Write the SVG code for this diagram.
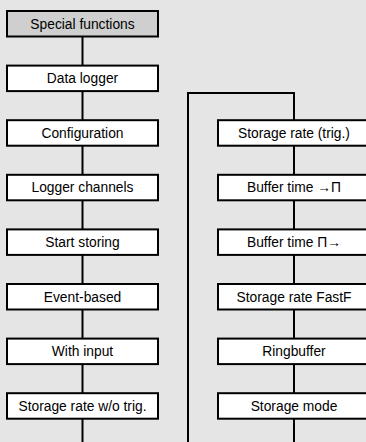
<svg xmlns="http://www.w3.org/2000/svg" width="366" height="442" viewBox="0 0 366 442">
<style>
.bg{fill:#e5e5e5}
.box{fill:#ffffff;stroke:#000;stroke-width:2}
.head{fill:#cfcfcf}
.lbl{font-family:"Liberation Sans",Arial,sans-serif;font-size:13.8px;fill:#000;text-anchor:middle}
.con{fill:none;stroke:#000;stroke-width:2}
</style>
<rect class="bg" x="0" y="0" width="366" height="442"/>
<g id="connectors">
<path class="con" d="M82.5 37 V442"/>
<path class="con" d="M188 442 V93 H294 V442"/>
</g>
<g id="n1"><rect class="box head" x="7" y="11" width="151" height="25.5"/><text class="lbl" x="82.5" y="28.5">Special functions</text></g>
<g id="n2"><rect class="box" x="7" y="65.6" width="151" height="25.5"/><text class="lbl" x="82.5" y="83.1">Data logger</text></g>
<g id="n3"><rect class="box" x="7" y="120.2" width="151" height="25.5"/><text class="lbl" x="82.5" y="137.7">Configuration</text></g>
<g id="n4"><rect class="box" x="7" y="174.8" width="151" height="25.5"/><text class="lbl" x="82.5" y="192.3">Logger channels</text></g>
<g id="n5"><rect class="box" x="7" y="229.4" width="151" height="25.5"/><text class="lbl" x="82.5" y="246.9">Start storing</text></g>
<g id="n6"><rect class="box" x="7" y="284" width="151" height="25.5"/><text class="lbl" x="82.5" y="301.5">Event-based</text></g>
<g id="n7"><rect class="box" x="7" y="338.6" width="151" height="25.5"/><text class="lbl" x="82.5" y="356.1">With input</text></g>
<g id="n8"><rect class="box" x="7" y="393.2" width="151" height="25.5"/><text class="lbl" x="82.5" y="410.7">Storage rate w/o trig.</text></g>
<g id="n9"><rect class="box" x="218" y="120.2" width="152" height="25.5"/><text class="lbl" x="294" y="137.7">Storage rate (trig.)</text></g>
<g id="n10"><rect class="box" x="218" y="174.8" width="152" height="25.5"/><text class="lbl" x="294" y="192.3">Buffer time →Π</text></g>
<g id="n11"><rect class="box" x="218" y="229.4" width="152" height="25.5"/><text class="lbl" x="294" y="246.9">Buffer time Π→</text></g>
<g id="n12"><rect class="box" x="218" y="284" width="152" height="25.5"/><text class="lbl" x="294" y="301.5">Storage rate FastF</text></g>
<g id="n13"><rect class="box" x="218" y="338.6" width="152" height="25.5"/><text class="lbl" x="294" y="356.1">Ringbuffer</text></g>
<g id="n14"><rect class="box" x="218" y="393.2" width="152" height="25.5"/><text class="lbl" x="294" y="410.7">Storage mode</text></g>
</svg>
